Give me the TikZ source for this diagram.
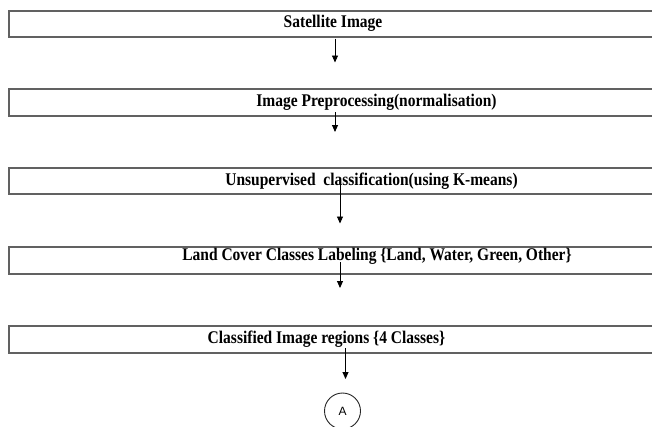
\documentclass[tikz,border=0pt]{standalone}
\usepackage{fontspec}
\setmainfont{Liberation Serif}
\newfontfamily\labelsans{Liberation Sans}
\usetikzlibrary{arrows.meta}
\newcommand{\tallbox}[1]{\scalebox{1}[1.15]{#1}}
\begin{document}
\begin{tikzpicture}[x=1pt,y=-1pt,
  stagebox/.style={draw=black!62,line width=1.5pt,rectangle,minimum height=26pt,
    minimum width=700pt,inner sep=0pt,anchor=north west},
  stagetext/.style={font=\bfseries\fontsize{15.5}{18}\selectfont,inner sep=0pt,anchor=base},
  flow/.style={draw=black,line width=0.9pt,-{Triangle[width=6pt,length=7pt]}},
  connector/.style={draw=black!85,line width=0.9pt,circle,minimum size=36pt,inner sep=0pt,
    font=\labelsans\fontsize{12}{14}\selectfont}]
\useasboundingbox (0,0) rectangle (652,426);
\clip (0,0) rectangle (652,426);
% boxes
\node[stagebox] (b1) at (8,10) {};
\node[stagebox,minimum height=27pt] (b2) at (8,88) {};
\node[stagebox] (b3) at (8,167) {};
\node[stagebox,minimum height=27pt] (b4) at (8,246) {};
\node[stagebox,minimum height=27pt] (b5) at (8,325) {};
% texts
\node[stagetext] (t1) at (333,27.7) {\tallbox{Satellite Image}};
\node[stagetext] (t2) at (376.5,106.5) {\tallbox{Image Preprocessing(normalisation)}};
\node[stagetext] (t3) at (371.5,185) {\tallbox{Unsupervised\ \ classification(using K-means)}};
\node[stagetext] (t4) at (377,260.5) {\tallbox{Land Cover Classes Labeling \{Land, Water, Green, Other\}}};
\node[stagetext] (t5) at (326.5,343.5) {\tallbox{Classified Image regions \{4 Classes\}}};
% connector circle
\node[connector] (ca) at (342.5,411) {A};
% arrow endpoints
\coordinate (s1) at (335,38.5);  \coordinate (e1) at (335,62.5);
\coordinate (s2) at (335,112);   \coordinate (e2) at (335,132);
\coordinate (s3) at (340,185);   \coordinate (e3) at (340,223.5);
\coordinate (s4) at (340,262);   \coordinate (e4) at (340,288);
\coordinate (s5) at (345.5,348); \coordinate (e5) at (345.5,379);
\draw[flow] (s1) -- (e1);
\draw[flow] (s2) -- (e2);
\draw[flow] (s3) -- (e3);
\draw[flow] (s4) -- (e4);
\draw[flow] (s5) -- (e5);
\end{tikzpicture}
\end{document}
